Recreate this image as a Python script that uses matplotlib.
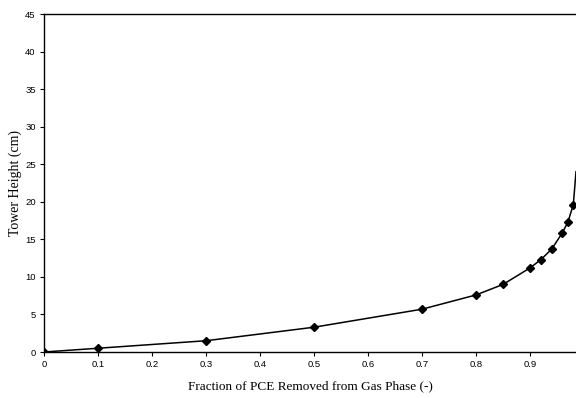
import matplotlib
matplotlib.use("Agg")
import matplotlib.pyplot as plt
import numpy as np

# data
fraction = [0.0, 0.1, 0.3, 0.5, 0.7, 0.8, 0.85, 0.9, 0.92, 0.94, 0.96, 0.97, 0.98]
height = [0.0, 0.5, 1.5, 3.3, 5.7, 7.6, 9.0, 11.2, 12.3, 13.7, 15.9, 17.3, 19.6]
# curve continues past the last marker
curve_end_x = 0.985
curve_end_y = 24.0

xticks = [0, 0.1, 0.2, 0.3, 0.4, 0.5, 0.6, 0.7, 0.8, 0.9]
xticklabels = ["0", "0.1", "0.2", "0.3", "0.4", "0.5", "0.6", "0.7", "0.8", "0.9"]
yticks = [0, 5, 10, 15, 20, 25, 30, 35, 40, 45]

fig = plt.figure(figsize=(5.76, 3.98), dpi=100)
ax = fig.add_axes([44 / 576, 1 - 352 / 398, 1 - 44 / 576, (352 - 14) / 398])

ax.plot(fraction + [curve_end_x], height + [curve_end_y], color="black", lw=1.1)
ax.plot(fraction, height, ls="none", marker="D", ms=4.5, color="black")

ax.set_xlim(0, 0.985)
ax.set_ylim(0, 45)
ax.set_xticks(xticks)
ax.set_xticklabels(xticklabels)
ax.set_yticks(yticks)
ax.tick_params(direction="out", length=3, width=0.8, labelsize=6.8, pad=3)
for lab in ax.get_xticklabels() + ax.get_yticklabels():
    lab.set_family("Liberation Sans")

ax.spines["right"].set_visible(False)
for s in ["left", "bottom", "top"]:
    ax.spines[s].set_linewidth(1.0)

ax.set_xlabel("Fraction of PCE Removed from Gas Phase (-)", family="Liberation Serif", fontsize=9.5, labelpad=8)
ax.set_ylabel("Tower Height (cm)", family="Liberation Serif", fontsize=10, labelpad=2)

plt.savefig("out.png", dpi=100)
